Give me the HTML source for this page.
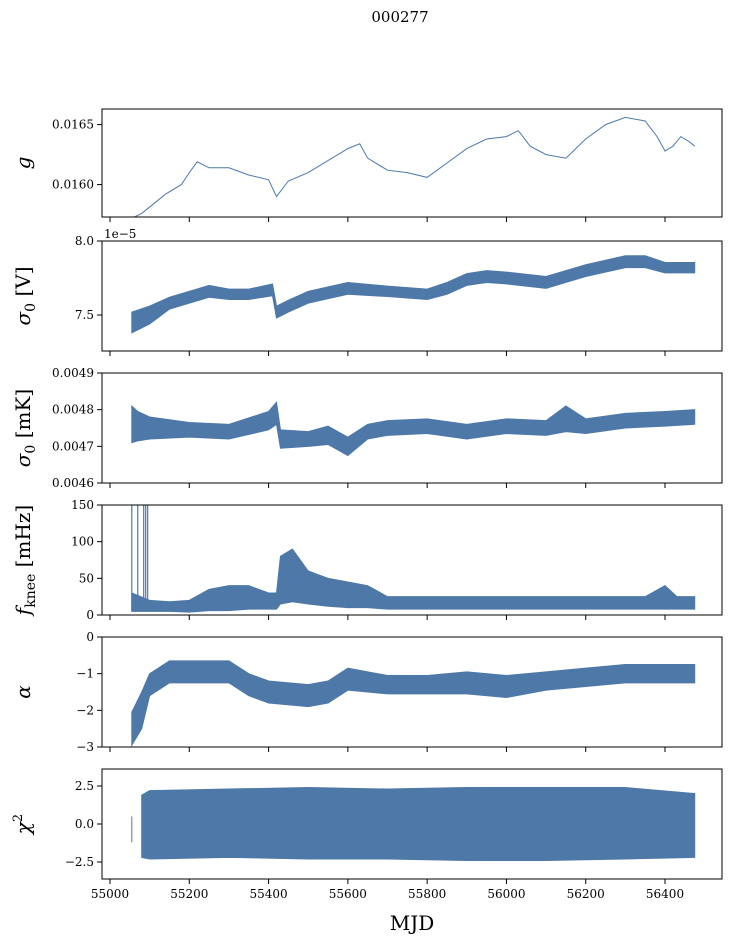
<!DOCTYPE html>
<html><head><meta charset="utf-8"><style>
body{margin:0;background:#fff}
svg text{font-family:"DejaVu Serif","Liberation Serif",serif;fill:#000}
</style></head><body>
<svg id="chart" width="732" height="944" xmlns="http://www.w3.org/2000/svg">
<text x="400" y="22" font-size="15" text-anchor="middle">000277</text>
</svg>
<script>
// Panel 1: gain g
const gMjd=[55055,55080,55110,55140,55180,55200,55220,55250,55300,55350,55400,55420,55450,55500,55550,55600,55630,55650,55700,55750,55800,55850,55900,55950,56000,56030,56060,56100,56150,56200,56250,56300,56350,56380,56400,56420,56440,56460,56475];
const gVal=[0.01572,0.01576,0.01584,0.01592,0.01600,0.01610,0.01619,0.01614,0.01614,0.01608,0.01604,0.01590,0.01603,0.01610,0.01620,0.01630,0.01634,0.01622,0.01612,0.01610,0.01606,0.01618,0.01630,0.01638,0.01640,0.01645,0.01632,0.01625,0.01622,0.01638,0.01650,0.01656,0.01653,0.01640,0.01628,0.01632,0.01640,0.01636,0.01632];
// Panel 2: sigma0 [V] (x1e-5)
const sVMjd=[55055,55100,55150,55200,55250,55300,55350,55410,55420,55450,55500,55600,55700,55800,55850,55900,55950,56000,56100,56150,56200,56300,56350,56400,56475];
const sVCen=[7.45,7.50,7.58,7.62,7.66,7.64,7.64,7.67,7.52,7.56,7.62,7.68,7.66,7.64,7.68,7.74,7.76,7.75,7.72,7.76,7.80,7.86,7.86,7.82,7.82];
const sVHalf=[0.07,0.06,0.04,0.04,0.04,0.035,0.035,0.04,0.04,0.04,0.04,0.04,0.035,0.035,0.04,0.04,0.04,0.04,0.04,0.04,0.04,0.04,0.04,0.035,0.035];
// Panel 3: sigma0 [mK] (x1e-4)
const sKMjd=[55055,55070,55100,55200,55300,55400,55420,55430,55500,55550,55600,55650,55700,55800,55900,56000,56100,56150,56200,56300,56400,56475];
const sKCen=[47.6,47.55,47.5,47.45,47.4,47.7,47.9,47.2,47.2,47.3,47.0,47.4,47.5,47.55,47.4,47.55,47.5,47.75,47.55,47.7,47.75,47.8];
const sKHalf=[0.5,0.4,0.3,0.2,0.2,0.25,0.3,0.25,0.2,0.25,0.25,0.2,0.2,0.2,0.2,0.2,0.2,0.35,0.2,0.2,0.2,0.2];
// Panel 4: f_knee [mHz]
const fMjd=[55055,55100,55150,55200,55250,55300,55350,55400,55420,55430,55460,55500,55550,55600,55650,55700,55800,55900,56000,56100,56200,56300,56350,56400,56430,56475];
const fLo=[5,5,5,4,6,6,8,8,8,15,18,15,12,10,10,8,8,8,8,8,8,8,8,8,8,8];
const fHi=[30,20,18,20,35,40,40,30,30,80,90,60,50,45,40,25,25,25,25,25,25,25,25,40,25,25];
const fSpikeMjd=[55055,55070,55085,55090,55095];
const fSpikeVal=[150,150,150,150,150];
// Panel 5: alpha
const aMjd=[55055,55080,55100,55150,55200,55300,55350,55400,55500,55550,55600,55700,55800,55900,56000,56100,56200,56300,56400,56475];
const aCen=[-2.5,-2.0,-1.3,-0.95,-0.95,-0.95,-1.3,-1.5,-1.6,-1.5,-1.15,-1.3,-1.3,-1.25,-1.35,-1.2,-1.1,-1.0,-1.0,-1.0];
const aHalf=[0.45,0.5,0.3,0.3,0.3,0.3,0.3,0.3,0.3,0.3,0.3,0.25,0.25,0.3,0.3,0.25,0.25,0.25,0.25,0.25];
// Panel 6: chi2
const cMjd=[55080,55100,55300,55500,55700,55900,56100,56300,56475];
const cLo=[-2.2,-2.3,-2.2,-2.3,-2.3,-2.4,-2.4,-2.3,-2.2];
const cHi=[1.9,2.2,2.3,2.4,2.3,2.4,2.4,2.4,2.0];
const xTicks=[55000,55200,55400,55600,55800,56000,56200,56400];

const NS="http://www.w3.org/2000/svg";
const svg=document.getElementById('chart');
const X0=102,X1=722;
const xs=m=>110+(m-55000)*(555/1400);
const col="#4e78a8";
function el(t,a,p){const e=document.createElementNS(NS,t);for(const k in a)e.setAttribute(k,a[k]);(p||svg).appendChild(e);return e;}
const panels=[
 {top:109,bot:217,min:0.01573,max:0.01663,ticks:[0.0160,0.0165],fmt:v=>v.toFixed(4)},
 {top:241,bot:351,min:7.257,max:8.0,ticks:[7.5,8.0],fmt:v=>v.toFixed(1)},
 {top:373,bot:483,min:46,max:49,ticks:[46,47,48,49],fmt:v=>(v/10000).toFixed(4)},
 {top:505,bot:615,min:0,max:150,ticks:[0,50,100,150],fmt:v=>String(v)},
 {top:637,bot:747,min:-3,max:0,ticks:[-3,-2,-1,0],fmt:v=>v<0?'−'+(-v):String(v)},
 {top:769,bot:879,min:-3.62,max:3.62,ticks:[-2.5,0,2.5],fmt:v=>v<0?'−'+(-v).toFixed(1):v.toFixed(1)}
];
const names=['gain','sigma0-volts','sigma0-mk','fknee','alpha','chi2'];
panels.forEach((p,i)=>{
 p.ys=v=>p.bot-(v-p.min)/(p.max-p.min)*(p.bot-p.top);
 const g=el('g',{});
 
 
 const cp=el('clipPath',{id:'cp'+i},g);el('rect',{x:X0,y:p.top,width:X1-X0,height:p.bot-p.top},cp);
 p.g=el('g',{'clip-path':'url(#cp'+i+')'},g);
 const fr=el('rect',{x:X0,y:p.top,width:X1-X0,height:p.bot-p.top,fill:'none',stroke:'#000','stroke-width':1},g);
 
 
 p.ticks.forEach(t=>{const y=p.ys(t);el('line',{x1:X0-5,x2:X0,y1:y,y2:y,stroke:'#000'},g);
  const tx=el('text',{x:X0-8,y:y+4,'font-size':12,'text-anchor':'end'},g);tx.textContent=p.fmt(t);
  
  });
 xTicks.forEach(t=>{el('line',{x1:xs(t),x2:xs(t),y1:p.bot,y2:p.bot+5,stroke:'#000'},g);
  if(i==5){const tx=el('text',{x:xs(t),y:p.bot+19,'font-size':12,'text-anchor':'middle'},g);tx.textContent=t;
   
   }});
});
function band(p,m,lo,hi,name){
 let d='M'+m.map((v,k)=>xs(v)+','+p.ys(hi[k])).join('L');
 d+='L'+m.map((v,k)=>xs(v)+','+p.ys(lo[k])).reverse().join('L')+'Z';
 const e=el('path',{d:d,fill:col,stroke:col,'stroke-width':1},p.g);
 
 
}
{const p=panels[0];const e=el('polyline',{points:gMjd.map((m,k)=>xs(m)+','+p.ys(gVal[k])).join(' '),fill:'none',stroke:col,'stroke-width':1},p.g);
 
 }
band(panels[1],sVMjd,sVCen.map((c,k)=>c-sVHalf[k]),sVCen.map((c,k)=>c+sVHalf[k]),'sigma0-volts-band');
band(panels[2],sKMjd,sKCen.map((c,k)=>c-sKHalf[k]),sKCen.map((c,k)=>c+sKHalf[k]),'sigma0-mk-band');
band(panels[3],fMjd,fLo,fHi,'fknee-band');
fSpikeMjd.forEach((m,k)=>{const p=panels[3];const e=el('line',{x1:xs(m),x2:xs(m),y1:p.ys(fSpikeVal[k]),y2:p.ys(5),stroke:col,'stroke-width':1.2},p.g);
 
 });
band(panels[4],aMjd,aCen.map((c,k)=>c-aHalf[k]),aCen.map((c,k)=>c+aHalf[k]),'alpha-band');
band(panels[5],cMjd,cLo,cHi,'chi2-band');
{const p=panels[5];const e=el('line',{x1:xs(55055),x2:xs(55055),y1:p.ys(0.5),y2:p.ys(-1.2),stroke:col},p.g);
 
 }
const labs=[['<tspan font-style="italic">g</tspan>',163,'gain-y-label'],
 ['<tspan font-style="italic">σ</tspan><tspan font-size="14" dy="5">0</tspan><tspan dy="-5"> [V]</tspan>',296,'sigma0-volts-y-label'],
 ['<tspan font-style="italic">σ</tspan><tspan font-size="14" dy="5">0</tspan><tspan dy="-5"> [mK]</tspan>',428,'sigma0-mk-y-label'],
 ['<tspan font-style="italic">f</tspan><tspan font-size="14" dy="5">knee</tspan><tspan dy="-5"> [mHz]</tspan>',560,'fknee-y-label'],
 ['<tspan font-style="italic">α</tspan>',692,'alpha-y-label'],
 ['<tspan font-style="italic">χ</tspan><tspan font-size="13" dy="-8">2</tspan>',824,'chi2-y-label']];
labs.forEach(l=>{const t=el('text',{transform:'translate(30,'+l[1]+') rotate(-90)','font-size':20,'text-anchor':'middle'});t.innerHTML=l[0];
 
 });
const off=el('text',{x:104,y:238,'font-size':12});off.textContent='1e−5';


const xl=el('text',{x:412,y:930,'font-size':20,'text-anchor':'middle'});xl.textContent='MJD';


</script>
</body></html>
